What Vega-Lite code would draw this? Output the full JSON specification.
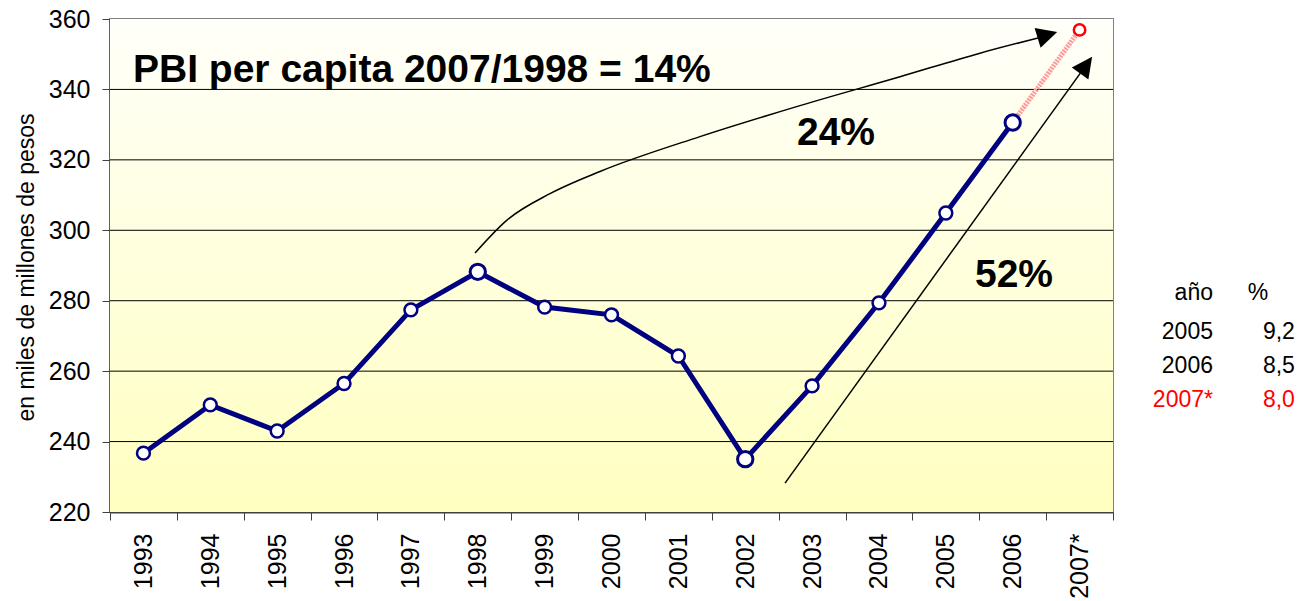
{
  "$schema": "https://vega.github.io/schema/vega-lite/v6.json",
  "width": 1003,
  "height": 493,
  "autosize": {"type": "none"},
  "padding": {"left": 110, "top": 19, "right": 190, "bottom": 89},
  "background": "white",
  "config": {
    "font": "Liberation Sans",
    "view": {"stroke": "#808080", "strokeWidth": 2},
    "axis": {"labelFont": "Liberation Sans", "labelColor": "black", "titleFont": "Liberation Sans", "titleColor": "black", "titleFontWeight": "normal"}
  },
  "datasets": {
    "pbi": [
      {"x": 0, "y": 236.7, "year": "1993"},
      {"x": 1, "y": 250.4, "year": "1994"},
      {"x": 2, "y": 243.0, "year": "1995"},
      {"x": 3, "y": 256.5, "year": "1996"},
      {"x": 4, "y": 277.4, "year": "1997"},
      {"x": 5, "y": 288.2, "year": "1998"},
      {"x": 6, "y": 278.2, "year": "1999"},
      {"x": 7, "y": 276.0, "year": "2000"},
      {"x": 8, "y": 264.3, "year": "2001"},
      {"x": 9, "y": 235.0, "year": "2002"},
      {"x": 10, "y": 255.8, "year": "2003"},
      {"x": 11, "y": 279.4, "year": "2004"},
      {"x": 12, "y": 304.9, "year": "2005"},
      {"x": 13, "y": 330.6, "year": "2006"},
      {"x": 14, "y": 356.9, "year": "2007*"}
    ],
    "bg": [{"x": -0.5, "x2": 14.5, "y": 220, "y2": 360}],
    "grid": [
      {"x": -0.5, "x2": 14.5, "y": 240},
      {"x": -0.5, "x2": 14.5, "y": 260},
      {"x": -0.5, "x2": 14.5, "y": 280},
      {"x": -0.5, "x2": 14.5, "y": 300},
      {"x": -0.5, "x2": 14.5, "y": 320},
      {"x": -0.5, "x2": 14.5, "y": 340}
    ],
    "curve": [
      {"x": 4.959, "y": 293.55},
      {"x": 5.437, "y": 302.9},
      {"x": 6.08, "y": 310.4},
      {"x": 6.828, "y": 316.7},
      {"x": 8.323, "y": 326.6},
      {"x": 9.819, "y": 335.4},
      {"x": 11.314, "y": 343.6},
      {"x": 12.511, "y": 350.3},
      {"x": 13.438, "y": 354.9}
    ],
    "straight": [
      {"x": 9.595, "y": 228.2},
      {"x": 14.098, "y": 346.9}
    ],
    "heads": [
      {"id": "curve", "x": 13.519, "y": 355.48},
      {"id": "straight", "x": 14.098, "y": 346.9}
    ],
    "notes": [
      {"x": -0.156, "y": 342.1, "label": "PBI per capita 2007/1998 = 14%"},
      {"x": 9.774, "y": 324.2, "label": "24%"},
      {"x": 12.436, "y": 283.9, "label": "52%"}
    ],
    "table": [
      {"x": 15.995, "y": 282.2, "label": "año", "row": "head"},
      {"x": 16.82, "y": 282.2, "label": "%", "row": "head"},
      {"x": 15.995, "y": 271.1, "label": "2005", "row": "2005"},
      {"x": 17.22, "y": 271.1, "label": "9,2", "row": "2005"},
      {"x": 15.995, "y": 261.5, "label": "2006", "row": "2006"},
      {"x": 17.22, "y": 261.5, "label": "8,5", "row": "2006"},
      {"x": 15.995, "y": 251.8, "label": "2007*", "row": "2007*"},
      {"x": 17.22, "y": 251.8, "label": "8,0", "row": "2007*"}
    ]
  },
  "encoding": {
    "x": {
      "field": "x",
      "type": "quantitative",
      "scale": {"domain": [-0.5, 14.5], "nice": false, "zero": false},
      "axis": {
        "values": [-0.5, 0.5, 1.5, 2.5, 3.5, 4.5, 5.5, 6.5, 7.5, 8.5, 9.5, 10.5, 11.5, 12.5, 13.5, 14.5],
        "labelExpr": "(['1993','1994','1995','1996','1997','1998','1999','2000','2001','2002','2003','2004','2005','2006','2007*'][round(datum.value + 0.5)]) || ''",
        "labelOffset": 33.43,
        "labelAngle": -90,
        "labelAlign": "right",
        "labelBaseline": "middle",
        "labelFontSize": 25,
        "labelPadding": 13,
        "labelOverlap": false,
        "labelFlush": false,
        "labelBound": false,
        "tickSize": 8,
        "tickColor": "#404040",
        "domainColor": "#404040",
        "domainWidth": 2,
        "grid": false,
        "title": null
      }
    },
    "y": {
      "field": "y",
      "type": "quantitative",
      "scale": {"domain": [220, 360], "nice": false, "zero": false},
      "axis": {
        "values": [220, 240, 260, 280, 300, 320, 340, 360],
        "labelFontSize": 25,
        "labelPadding": 12,
        "tickSize": 8,
        "tickColor": "#404040",
        "domainColor": "#404040",
        "domainWidth": 2,
        "grid": false,
        "title": "en miles de millones de pesos",
        "titleFontSize": 23,
        "titleAngle": 270,
        "titleAlign": "center",
        "titleBaseline": "alphabetic",
        "titleX": -77,
        "titleY": 248
      }
    }
  },
  "layer": [
    {
      "data": {"name": "bg"},
      "mark": {
        "type": "rect",
        "fill": {"gradient": "linear", "x1": 0, "y1": 0, "x2": 0, "y2": 1, "stops": [{"offset": 0, "color": "#fffffa"}, {"offset": 1, "color": "#ffffc0"}]}
      },
      "encoding": {"x2": {"field": "x2"}, "y2": {"field": "y2"}}
    },
    {
      "data": {"name": "grid"},
      "mark": {"type": "rule", "color": "black", "strokeWidth": 1},
      "encoding": {"x2": {"field": "x2"}}
    },
    {
      "data": {"name": "curve"},
      "mark": {"type": "line", "color": "black", "strokeWidth": 1.5, "interpolate": "monotone"},
      "encoding": {}
    },
    {
      "data": {"name": "straight"},
      "mark": {"type": "line", "color": "black", "strokeWidth": 1.5},
      "encoding": {}
    },
    {
      "data": {"name": "heads"},
      "transform": [{"filter": "datum.id === 'curve'"}],
      "mark": {"type": "point", "shape": "M-1,-1L1,0L-1,1Z", "size": 420, "filled": true, "color": "black", "opacity": 1, "angle": -17}
    },
    {
      "data": {"name": "heads"},
      "transform": [{"filter": "datum.id === 'straight'"}],
      "mark": {"type": "point", "shape": "M-1,-1L1,0L-1,1Z", "size": 420, "filled": true, "color": "black", "opacity": 1, "angle": -54}
    },
    {
      "data": {"name": "pbi"},
      "transform": [{"filter": "datum.x >= 13"}],
      "mark": {"type": "line", "color": "#ff9a9a", "strokeWidth": 5, "strokeDash": [2, 1]},
      "encoding": {}
    },
    {
      "data": {"name": "pbi"},
      "transform": [{"filter": "datum.x <= 13"}],
      "mark": {"type": "line", "color": "#000080", "strokeWidth": 5},
      "encoding": {}
    },
    {
      "data": {"name": "pbi"},
      "transform": [{"filter": "datum.x <= 13 && datum.x != 5 && datum.x != 9 && datum.x != 13"}],
      "mark": {"type": "point", "filled": false, "fill": "white", "stroke": "#000080", "strokeWidth": 2.5, "size": 165, "opacity": 1, "fillOpacity": 1}
    },
    {
      "data": {"name": "pbi"},
      "transform": [{"filter": "datum.x == 5 || datum.x == 9 || datum.x == 13"}],
      "mark": {"type": "point", "filled": false, "fill": "white", "stroke": "#000080", "strokeWidth": 3, "size": 235, "opacity": 1, "fillOpacity": 1}
    },
    {
      "data": {"name": "pbi"},
      "transform": [{"filter": "datum.x == 14"}],
      "mark": {"type": "point", "filled": false, "fill": "white", "stroke": "#ff0000", "strokeWidth": 2.5, "size": 130, "opacity": 1, "fillOpacity": 1}
    },
    {
      "data": {"name": "notes"},
      "mark": {"type": "text", "font": "Liberation Sans", "fontWeight": "bold", "fontSize": 39, "align": "left", "baseline": "alphabetic", "color": "black"},
      "encoding": {"text": {"field": "label"}}
    },
    {
      "data": {"name": "table"},
      "mark": {"type": "text", "font": "Liberation Sans", "fontSize": 23, "align": "right", "baseline": "middle"},
      "encoding": {
        "text": {"field": "label"},
        "color": {"condition": {"test": "datum.row === '2007*'", "value": "#ff0000"}, "value": "black"}
      }
    }
  ]
}
